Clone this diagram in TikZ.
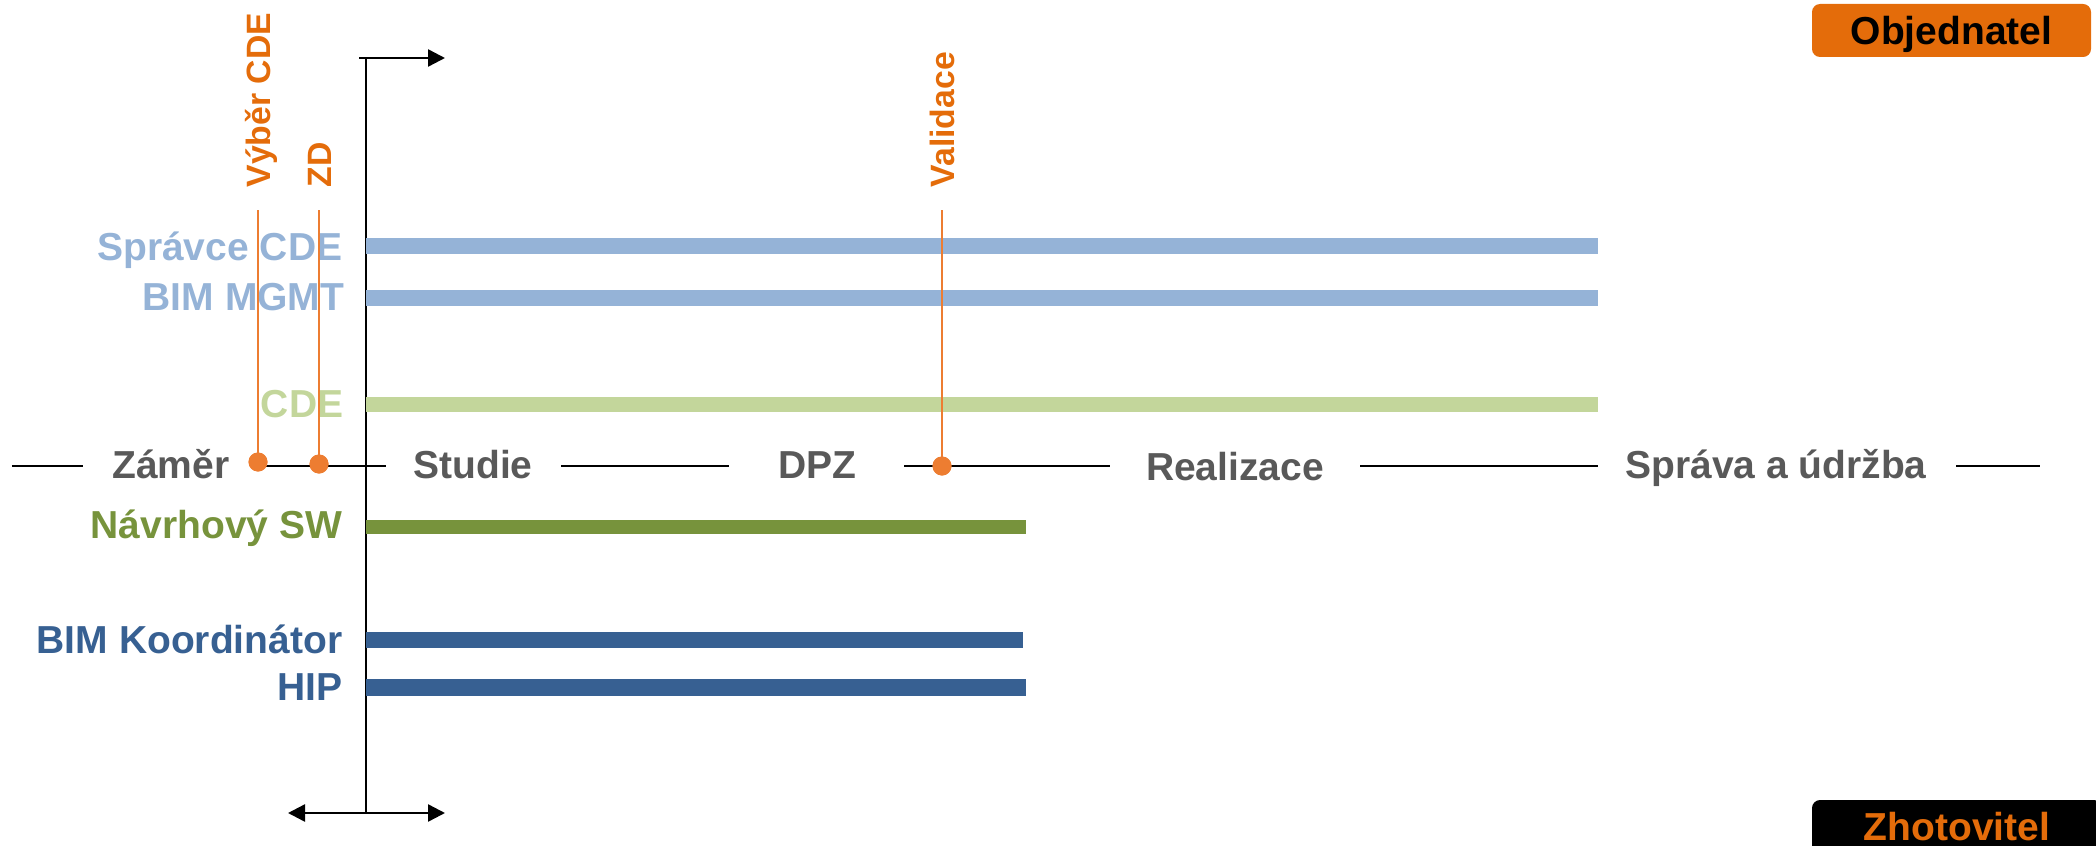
\documentclass[tikz,border=0pt]{standalone}
\usepackage{fontspec}
\setmainfont{Liberation Sans}
\usepackage{tikz}
\usetikzlibrary{arrows.meta}

\definecolor{seda}{HTML}{595959}
\definecolor{svmodra}{HTML}{95B3D7}
\definecolor{svzelena}{HTML}{C3D69B}
\definecolor{zelena}{HTML}{77933C}
\definecolor{modra}{HTML}{376092}
\definecolor{oranzova}{HTML}{E46C0A}
\definecolor{milnik}{HTML}{ED7D31}

\begin{document}
\begin{tikzpicture}[
  faze/.style={anchor=base,inner sep=0pt,text=seda,font=\fontsize{11.1}{13}\selectfont\bfseries},
  role/.style={anchor=base east,inner sep=0pt,font=\fontsize{11.1}{13}\selectfont\bfseries},
  pruh/.style={line width=0.16cm},
  osa/.style={line width=0.7pt},
  hrot/.tip={Triangle[length=0.17cm,width=0.17cm]},
  milnik text/.style={rotate=90,anchor=base west,inner sep=0pt,text=oranzova,font=\fontsize{9.6}{11}\selectfont\bfseries},
  tecka/.style={circle,fill=milnik,inner sep=0pt,minimum size=0.19cm},
  box/.style={rounded corners=0.08cm,inner sep=0pt,minimum height=0.53cm,text height=0.28cm,text depth=0pt,font=\fontsize{11.1}{13}\selectfont\bfseries}
]
\useasboundingbox (0,0) rectangle (20.96,8.45);

% casova osa
\draw[osa] (0.12,3.79) -- (0.83,3.79);
\draw[osa] (2.55,3.79) -- (3.86,3.79);
\draw[osa] (5.61,3.79) -- (7.29,3.79);
\draw[osa] (9.04,3.79) -- (11.10,3.79);
\draw[osa] (13.60,3.79) -- (15.98,3.79);
\draw[osa] (19.56,3.79) -- (20.40,3.79);
\node[faze] (zamer) at (1.71,3.67) {Záměr};
\node[faze] (studie) at (4.73,3.67) {Studie};
\node[faze] (dpz) at (8.17,3.67) {DPZ};
\node[faze] (realizace) at (12.35,3.65) {Realizace};
\node[faze] (sprava) at (17.76,3.67) {Správa a údržba};

% svisla osa
\coordinate (osaH) at (3.66,7.87);
\coordinate (osaD) at (3.66,0.32);
\draw[osa] (osaH) -- (osaD);
\draw[osa,-hrot] (3.59,7.87) -- (4.45,7.87);
\draw[osa,hrot-hrot] (2.88,0.32) -- (4.45,0.32);

% role
\node[role,text=svmodra] (spravce) at (3.43,5.85) {Správce CDE};
\node[role,text=svmodra] (mgmt) at (3.45,5.35) {BIM MGMT};
\node[role,text=svzelena] (cde) at (3.44,4.28) {CDE};
\node[role,text=zelena] (navrh) at (3.43,3.07) {Návrhový SW};
\node[role,text=modra] (koord) at (3.43,1.92) {BIM Koordinátor};
\node[role,text=modra] (hip) at (3.43,1.45) {HIP};
\draw[pruh,svmodra] (3.66,5.99) -- (15.98,5.99);
\draw[pruh,svmodra] (3.66,5.47) -- (15.98,5.47);
\draw[pruh,svzelena,line width=0.15cm] (3.66,4.405) -- (15.98,4.405);
\draw[pruh,zelena,line width=0.14cm] (3.66,3.18) -- (10.26,3.18);
\draw[pruh,modra] (3.66,2.05) -- (10.23,2.05);
\draw[pruh,modra,line width=0.17cm] (3.66,1.575) -- (10.26,1.575);

% milniky
\coordinate (vyberH) at (2.58,6.35);
\coordinate (zdH) at (3.19,6.35);
\coordinate (validaceH) at (9.42,6.35);
\node[tecka] (vyber) at (2.58,3.83) {};
\node[tecka] (zd) at (3.19,3.81) {};
\node[tecka] (validace) at (9.42,3.79) {};
\draw[milnik,line width=0.5pt] (vyberH) -- (vyber.center);
\draw[milnik,line width=0.5pt] (zdH) -- (zd.center);
\draw[milnik,line width=0.5pt] (validaceH) -- (validace.center);
\node[tecka] at (vyber) {};
\node[tecka] at (zd) {};
\node[tecka] at (validace) {};
\node[milnik text] (vyberT) at (2.70,6.57) {Výběr CDE};
\node[milnik text] (zdT) at (3.31,6.57) {ZD};
\node[milnik text] (validaceT) at (9.54,6.57) {Validace};

% strany
\node[box,fill=oranzova,text=black,minimum width=2.79cm] (objednatel) at (19.515,8.145) {Objednatel};
\node[box,fill=black,text=oranzova,minimum width=2.9cm] (zhotovitel) at (19.57,0.185) {Zhotovitel};

\end{tikzpicture}
\end{document}
